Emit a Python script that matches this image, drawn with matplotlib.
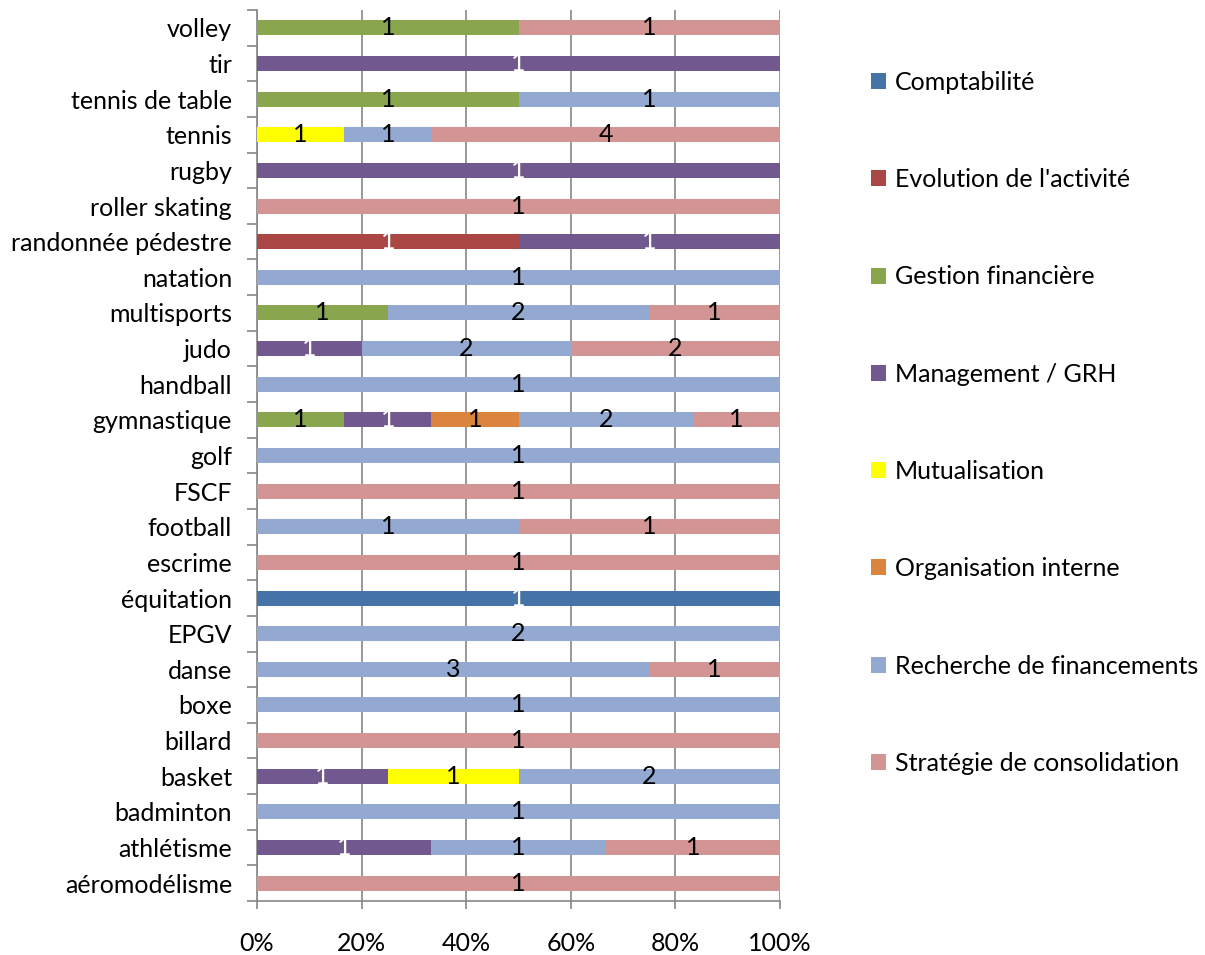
import matplotlib
matplotlib.use("Agg")
import matplotlib.pyplot as plt
import numpy as np

categories = ["aéromodélisme", "athlétisme", "badminton", "basket", "billard", "boxe",
              "danse", "EPGV", "équitation", "escrime", "football", "FSCF", "golf",
              "gymnastique", "handball", "judo", "multisports", "natation",
              "randonnée pédestre", "roller skating", "rugby", "tennis",
              "tennis de table", "tir", "volley"]

series = ["Comptabilité", "Evolution de l'activité", "Gestion financière",
          "Management / GRH", "Mutualisation", "Organisation interne",
          "Recherche de financements", "Stratégie de consolidation"]

comptabilite = [0,0,0,0,0,0,0,0,1,0,0,0,0,0,0,0,0,0,0,0,0,0,0,0,0]
evolution    = [0,0,0,0,0,0,0,0,0,0,0,0,0,0,0,0,0,0,1,0,0,0,0,0,0]
gestion      = [0,0,0,0,0,0,0,0,0,0,0,0,0,1,0,0,1,0,0,0,0,0,1,0,1]
management   = [0,1,0,1,0,0,0,0,0,0,0,0,0,1,0,1,0,0,1,0,1,0,0,1,0]
mutualisation= [0,0,0,1,0,0,0,0,0,0,0,0,0,0,0,0,0,0,0,0,0,1,0,0,0]
organisation = [0,0,0,0,0,0,0,0,0,0,0,0,0,1,0,0,0,0,0,0,0,0,0,0,0]
recherche    = [0,1,1,2,0,1,3,2,0,0,1,0,1,2,1,2,2,1,0,0,0,1,1,0,0]
strategie    = [1,1,0,0,1,0,1,0,0,1,1,1,0,1,0,2,1,0,0,1,0,4,0,0,1]

colors = ["#4572A7", "#AA4643", "#89A54E", "#71588F", "#FFFF00", "#DB843D",
          "#93A9D1", "#D39494"]
label_colors = ["white", "white", "black", "white", "black", "black", "black", "black"]

plt.rcParams['font.family'] = ['Lato', 'DejaVu Sans']
FS = 18

data = np.array([comptabilite, evolution, gestion, management, mutualisation,
                 organisation, recherche, strategie], dtype=float)
totals = data.sum(axis=0)
pct = data / totals * 100

fig = plt.figure(figsize=(12.05, 9.55), dpi=100)
ax = fig.add_axes([257/1205, 1 - 901/955, 523/1205, 891/955])

y = np.arange(len(categories))
left = np.zeros(len(categories))
for i, name in enumerate(series):
    ax.barh(y, pct[i], left=left, height=0.42, color=colors[i], label=name, zorder=3)
    for j in range(len(categories)):
        if data[i, j] > 0:
            ax.text(left[j] + pct[i, j] / 2, y[j], f"{int(data[i, j])}",
                    ha="center", va="center", fontsize=FS, color=label_colors[i], zorder=4)
    left += pct[i]

ax.set_xlim(0, 100)
ax.set_ylim(-0.5, len(categories) - 0.5)
ax.set_xticks(np.arange(0, 101, 20))
ax.set_xticklabels([f"{v}%" for v in range(0, 101, 20)], fontsize=FS)
ax.set_yticks(y)
ax.set_yticklabels(categories, fontsize=FS)
ax.set_yticks(np.arange(-0.5, len(categories), 1), minor=True)
ax.tick_params(axis="y", which="major", length=0, pad=18)
ax.tick_params(axis="y", which="minor", length=7, color="#868686", width=1.2)
ax.tick_params(axis="x", which="major", length=6, color="#868686", width=1.2, pad=16, direction="out")
ax.grid(axis="x", color="#868686", linewidth=1.2, zorder=1)
for s in ["top", "right"]:
    ax.spines[s].set_visible(False)
for s in ["left", "bottom"]:
    ax.spines[s].set_color("#868686")
    ax.spines[s].set_linewidth(1.2)

handles, labels = ax.get_legend_handles_labels()
fig.legend(handles, labels, loc="upper left", bbox_to_anchor=(861/1205, 1 - 61/955),
           frameon=False, fontsize=FS, handlelength=0.6, handleheight=0.6,
           handletextpad=0.35, labelspacing=2.97, borderaxespad=0)

fig.savefig("out.png", dpi=100)
